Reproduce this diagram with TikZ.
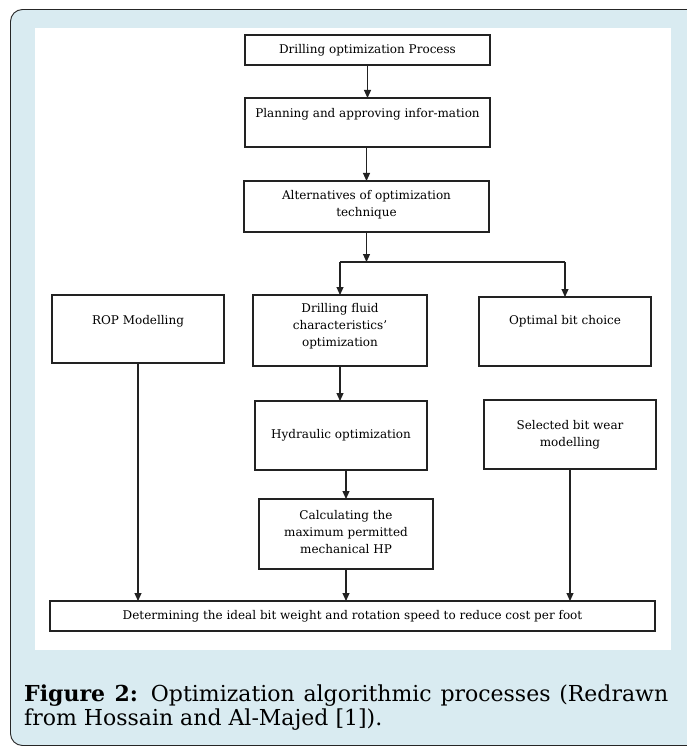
\documentclass[tikz,border=0pt]{standalone}
\usepackage{fontspec}
\setmainfont{DejaVu Serif}
\usetikzlibrary{arrows.meta}
\definecolor{framebg}{HTML}{D9EBF1}
\definecolor{boxline}{HTML}{222222}
\begin{document}
\begin{tikzpicture}[x=1pt,y=-1pt,
  box/.style={draw=boxline, line width=1.3pt, fill=white, inner sep=0pt, outer sep=0pt},
  txt/.style={font=\fontsize{12}{17}\selectfont, align=center, inner sep=0pt, text=black},
  arr/.style={draw=boxline, line width=1.1pt, -{Triangle[length=8pt,width=7pt]}},
  ln/.style={draw=boxline, line width=1.1pt},
  captxt/.style={font=\fontsize{22}{24}\selectfont, inner sep=0pt, anchor=base west, text=black}]
\useasboundingbox (0,0) rectangle (687,746);
\clip (0,0) rectangle (687,746);
% frame
\draw[fill=framebg, draw=black!85, line width=0.9pt, rounded corners=12pt] (10.5,9.5) rectangle (720,745.5);
\fill[white] (35,28) rectangle (671,650);
% boxes
\node[box, minimum width=245, minimum height=30] (b1) at (367.5,50) {};
\node[box, minimum width=245, minimum height=49] (b2) at (367.5,122.5) {};
\node[box, minimum width=245, minimum height=51] (b3) at (366.5,206.5) {};
\node[box, minimum width=172, minimum height=68] (rop) at (138,329) {};
\node[box, minimum width=174, minimum height=71] (flu) at (340,330.5) {};
\node[box, minimum width=172, minimum height=69] (opt) at (565,331.5) {};
\node[box, minimum width=172, minimum height=69] (hyd) at (341,435.5) {};
\node[box, minimum width=172, minimum height=69] (sel) at (570,434.5) {};
\node[box, minimum width=174, minimum height=70] (calc) at (346,534) {};
\node[box, minimum width=605, minimum height=30] (bot) at (352.5,616) {};
% texts
\node[txt] (t1) at (b1) {Drilling optimization Process};
\node[txt] (t2) at (367.5,114) {Planning and approving infor-mation};
\node[txt] (t3) at (366.5,204.5) {Alternatives of optimization\\technique};
\node[txt] (t4) at (138,321) {ROP Modelling};
\node[txt] (t5) at (340,326) {Drilling fluid\\characteristics'\\optimization};
\node[txt] (t6) at (565,321) {Optimal bit choice};
\node[txt] (t7) at (hyd) {Hydraulic optimization};
\node[txt] (t8) at (570,435) {Selected bit wear\\modelling};
\node[txt] (t9) at (346,532) {Calculating the\\maximum permitted\\mechanical HP};
\node[txt] (t10) at (bot) {Determining the ideal bit weight and rotation speed to reduce cost per foot};
% connectors
\coordinate (j) at (366.5,262);
\draw[arr] (b1.south) -- (b2.north);
\draw[arr] (b2.south -| b3.north) -- (b3.north);
\draw[arr] (b3.south) -- (j);
\draw[ln] (flu.north |- j) -- (opt.north |- j);
\draw[arr] (flu.north |- j) -- (flu.north);
\draw[arr] (opt.north |- j) -- (opt.north);
\draw[arr] (flu.south) -- (flu.south |- hyd.north);
\draw[arr] (calc.north |- hyd.south) -- (calc.north);
\draw[arr] (rop.south) -- (rop.south |- bot.north);
\draw[arr] (calc.south) -- (calc.south |- bot.north);
\draw[arr] (sel.south) -- (sel.south |- bot.north);
% caption
\node[captxt] (c1) at (24,701) {\makebox[644pt][s]{\textbf{Figure 2:} Optimization algorithmic processes (Redrawn}};
\node[captxt] (c2) at (24,725) {from Hossain and Al-Majed [1]).};
\end{tikzpicture}
\end{document}
